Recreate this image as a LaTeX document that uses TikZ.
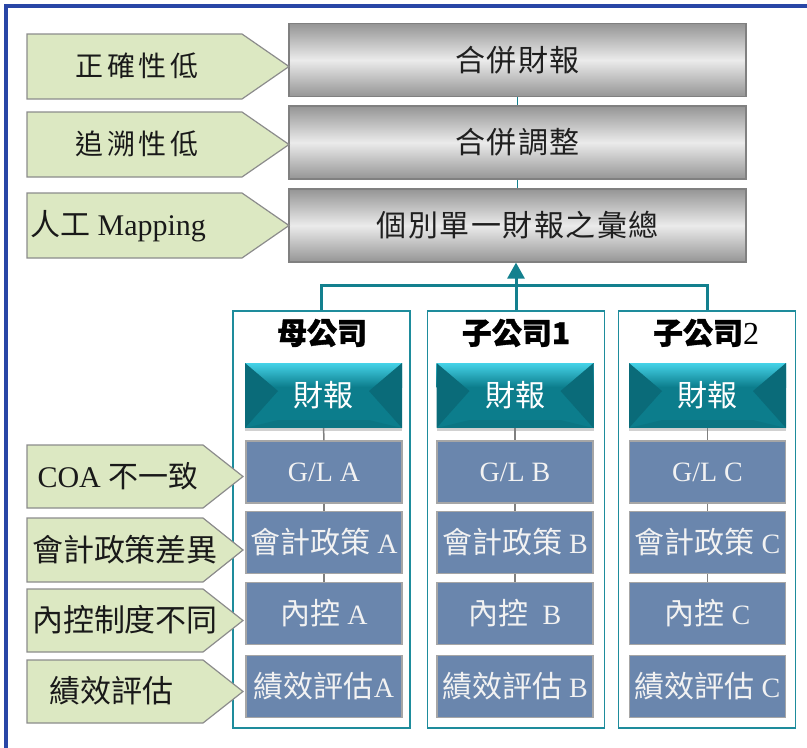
\documentclass[tikz,border=0pt]{standalone}
\usepackage{fontspec}
\setmainfont{Liberation Serif}
\newfontfamily\cjk{Noto Sans CJK TC}
\newfontfamily\cjksp{Noto Sans CJK TC}[LetterSpace=14]
\newfontfamily\cjkbox{Noto Sans CJK TC}[LetterSpace=5]
\newfontfamily\cjkhv{Noto Sans CJK TC}[BoldFeatures={FakeBold=1.2}]
\usetikzlibrary{arrows.meta,shadows,calc}
\definecolor{framecol}{HTML}{2946A6}
\definecolor{gtop}{HTML}{959595}
\definecolor{gmid}{HTML}{EBEBEB}
\definecolor{grayborder}{HTML}{808080}
\definecolor{greenfill}{HTML}{DCE8C2}
\definecolor{greenborder}{HTML}{8C8C8C}
\definecolor{tealline}{HTML}{13808E}
\definecolor{contborder}{HTML}{1E8C9C}
\definecolor{tealmain}{HTML}{0C7D8C}
\definecolor{tealtop}{HTML}{45D3E8}
\definecolor{tealdark}{HTML}{0A6B79}
\definecolor{bluefill}{HTML}{6A86AD}
\definecolor{blueborder}{HTML}{A6A6A6}
\definecolor{bluetext}{HTML}{F2F2F2}
\definecolor{conngray}{HTML}{808080}
\newcommand\zh[1]{{\cjk #1}}
\newcommand\zhb[1]{{\cjk\fontsize{30}{32}\selectfont #1}}
\begin{document}
\begin{tikzpicture}[x=1pt,y=-1pt,
  graybox/.style={draw=grayborder, line width=1.2pt, top color=gtop, bottom color=gtop, middle color=gmid,
    minimum width=457pt, minimum height=73pt, inner sep=0pt, text=black!88,
    font=\cjkbox\fontsize{30}{32}\selectfont},
  greenarrow/.style={fill=greenfill, draw=greenborder, line width=1.2pt},
  glabel/.style={inner sep=0pt, text=black!90, font=\fontsize{30}{32}\selectfont},
  glabelzh/.style={inner sep=0pt, text=black!90, font=\cjk\fontsize{31}{33}\selectfont},
  glabelsp/.style={inner sep=0pt, text=black!90, font=\cjksp\fontsize{28}{30}\selectfont},
  treeline/.style={draw=tealline, line width=3pt},
  thinteal/.style={draw=tealline, line width=1.2pt},
  container/.style={draw=contborder, line width=1.3pt, fill=white, minimum width=177pt, minimum height=417pt, inner sep=0pt},
  title/.style={inner sep=0pt, text=black, font=\cjkhv\bfseries\fontsize{30}{32}\selectfont},
  tealbox/.style={fill=tealmain, minimum width=157pt, minimum height=65pt, inner sep=0pt, text=white,
    font=\cjk\fontsize{30}{32}\selectfont,
    drop shadow={shadow xshift=0pt, shadow yshift=-3pt, opacity=0.18, fill=black},
    path picture={
      \coordinate (pnw) at (path picture bounding box.north west);
      \coordinate (pne) at (path picture bounding box.north east);
      \coordinate (psw) at (path picture bounding box.south west);
      \coordinate (pse) at (path picture bounding box.south east);
      \shade[top color=tealtop, bottom color=tealmain] (pnw) rectangle ($(pne)+(0,24)$);
      \fill[tealdark] (pnw) -- ($(pnw)+(33,28)$) -- (psw) -- cycle;
      \fill[tealdark] (pne) -- ($(pne)+(-33,28)$) -- (pse) -- cycle;
      \fill[black, opacity=0.06] (psw) -- (pse) -- ($(pse)+(-33,-8)$) -- ($(psw)+(33,-8)$) -- cycle;
    }},
  bluebox/.style={draw=blueborder, line width=1.5pt, fill=bluefill, minimum width=156pt, minimum height=62pt,
    inner sep=0pt, text=bluetext, font=\fontsize{28}{30}\selectfont},
  grayconn/.style={draw=conngray, line width=1.5pt}
]
\useasboundingbox (0,0) rectangle (807,748);
% frame
\draw[framecol, line width=3.5pt] (807,6) -- (6,6) -- (6,748);

% top gray boxes
\node[graybox] (r1) at (517.5,60) {合併財報};
\node[graybox] (r2) at (517.5,142.5) {合併調整};
\node[graybox] (r3) at (517.5,225.5) {個別單一財報之彙總};
\draw[thinteal] (r1) -- (r2);
\draw[thinteal] (r2) -- (r3);

% top green arrows
\draw[greenarrow] (27,34) -- (242,34) -- (289,66.5) -- (242,99) -- (27,99) -- cycle;
\draw[greenarrow] (27,112) -- (242,112) -- (289,144.5) -- (242,177) -- (27,177) -- cycle;
\draw[greenarrow] (27,193) -- (242,193) -- (289,225.5) -- (242,258) -- (27,258) -- cycle;
\node[glabelsp] (l1) at (137,66) {正確性低};
\node[glabelsp] (l2) at (137,144) {追溯性低};
\node[glabel] (l3) at (118,226) {\zhb{人工} Mapping};

% containers
\node[container] (cA) at (321.5,519.5) {};
\node[container] (cB) at (516,519.5) {};
\node[container] (cC) at (707,519.5) {};
\coordinate (bar) at (516,285);
\draw[treeline] (cA.north) |- (bar) -| (cC.north);
\draw[treeline, -{Triangle[width=17pt,length=16pt]}] (cB.north) -- (cB.north |- r3.south);

\node[title] (tA) at (322,333) {母公司};
\node[title] (tB) at (516,333) {子公司1};
\node[title] (tC) at (706,333) {子公司{\normalfont\mdseries\fontsize{32}{34}\selectfont 2}};

% teal boxes
\node[tealbox] (fA) at (323.5,395.5) {財報};
\node[tealbox] (fB) at (515,395.5) {財報};
\node[tealbox] (fC) at (707.5,395.5) {財報};

% blue boxes
\foreach \n/\x in {A/324,B/515,C/707.5}{
  \node[bluebox] (g\n) at (\x,472) {G/L \n};
}
\node[bluebox] (pA) at (324,542.5) {\zhb{會計政策} A};
\node[bluebox] (pB) at (515,542.5) {\zhb{會計政策} B};
\node[bluebox] (pC) at (707.5,542.5) {\zhb{會計政策} C};
\node[bluebox] (kA) at (324,613.5) {\zhb{內控} A};
\node[bluebox] (kB) at (515,613.5) {\zhb{內控}\ \ B};
\node[bluebox] (kC) at (707.5,613.5) {\zhb{內控} C};
\node[bluebox] (eA) at (324,686.5) {\zhb{績效評估}A};
\node[bluebox] (eB) at (515,686.5) {\zhb{績效評估} B};
\node[bluebox] (eC) at (707.5,686.5) {\zhb{績效評估} C};

\foreach \n in {A,B,C}{
  \draw[grayconn] (f\n) -- (g\n);
  \draw[grayconn] (g\n) -- (p\n);
  \draw[grayconn] (p\n) -- (k\n);
}

% bottom green arrows
\draw[greenarrow] (27,445) -- (203,445) -- (243,476.5) -- (203,508) -- (27,508) -- cycle;
\draw[greenarrow] (27,518) -- (203,518) -- (243,550) -- (203,582) -- (27,582) -- cycle;
\draw[greenarrow] (27,589) -- (203,589) -- (243,620.5) -- (203,652) -- (27,652) -- cycle;
\draw[greenarrow] (27,660) -- (203,660) -- (243,691.5) -- (203,723) -- (27,723) -- cycle;
\node[glabel] (b1) at (118,476) {COA \zhb{不一致}};
\node[glabelzh] (b2) at (125,550) {會計政策差異};
\node[glabelzh] (b3) at (125,620) {內控制度不同};
\node[glabelzh] (b4) at (111,691) {績效評估};
\end{tikzpicture}
\end{document}
